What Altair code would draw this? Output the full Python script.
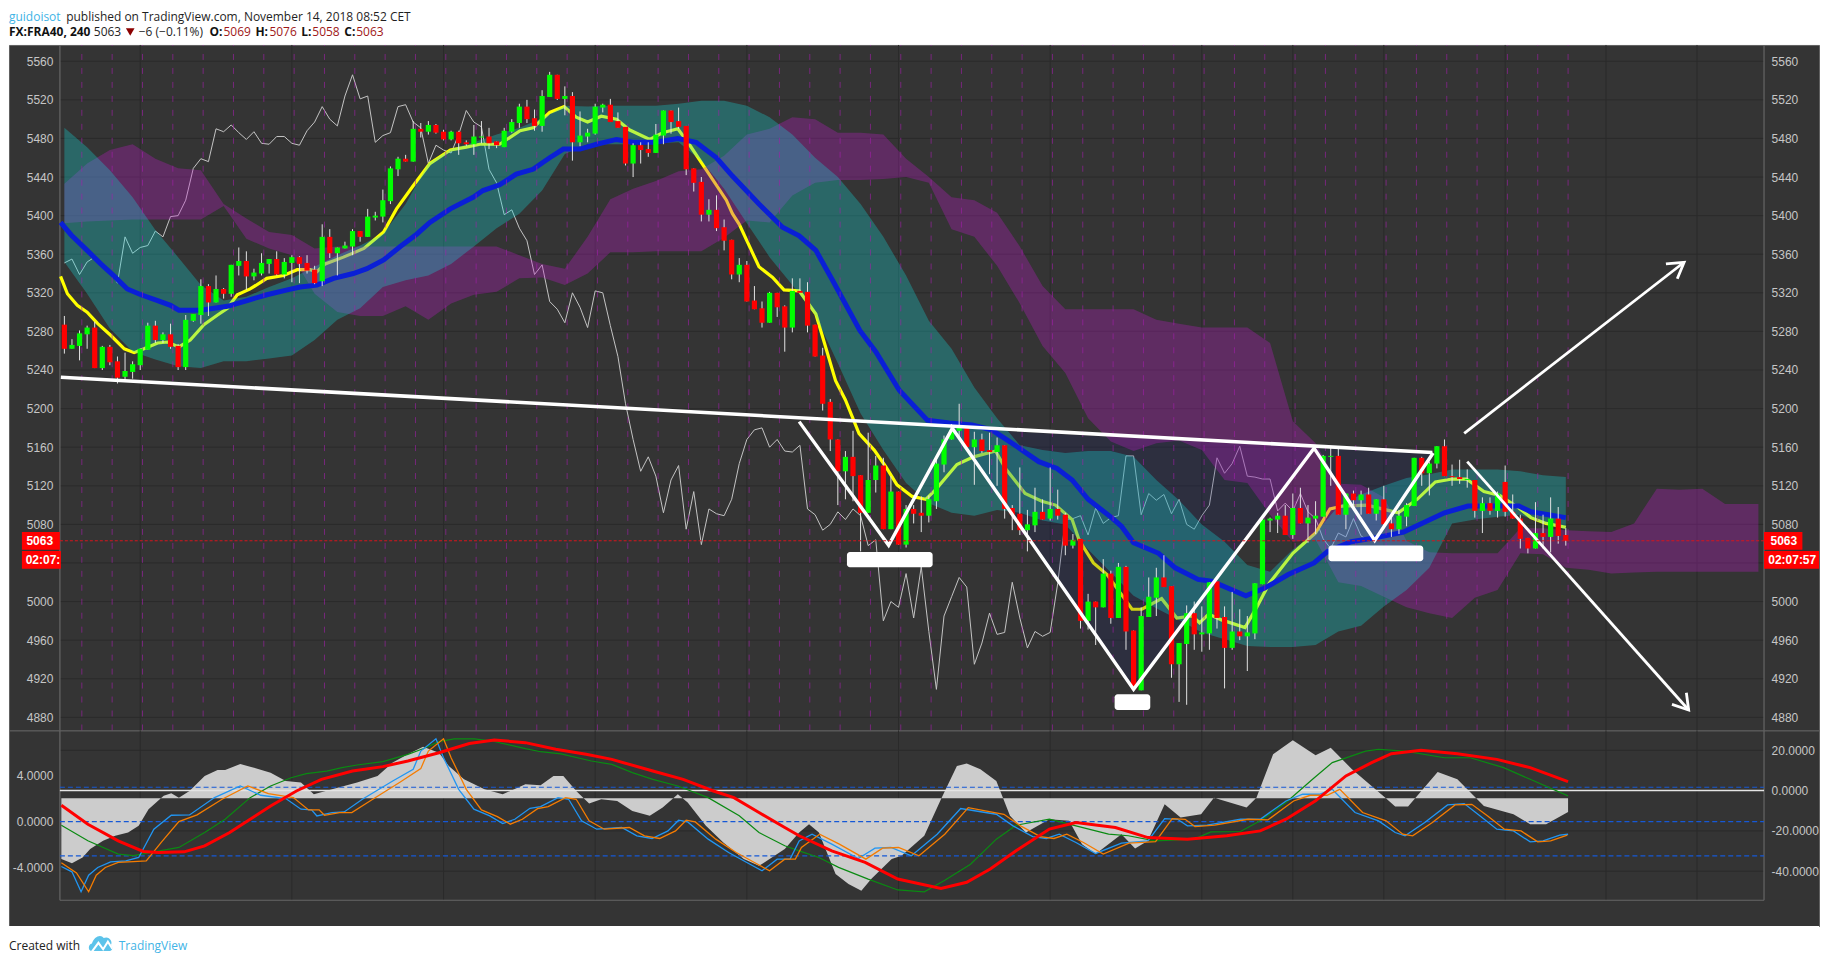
import altair as alt
import pandas as pd

# ---------- candles (price, one entry per bar) ----------
open_ = [5287,5262,5265,5277,5284,5242,5264,5249,5233,5238,5245,5261,5286,5271,5277,5265,5243,5291,5297,5327,
5310,5324,5319,5348,5353,5337,5340,5350,5355,5339,5351,5357,5351,5344,5332,5378,5361,5366,5368,5384,
5378,5398,5399,5415,5448,5459,5456,5490,5487,5494,5487,5479,5487,5476,5474,5481,5482,5477,5471,5487,
5496,5513,5501,5493,5523,5546,5521,5524,5476,5482,5485,5512,5515,5498,5492,5454,5473,5469,5465,5483,
5509,5498,5493,5449,5435,5401,5406,5388,5375,5339,5349,5312,5304,5289,5320,5306,5284,5322,5321,5287,
5255,5207,5168,5135,5150,5131,5092,5126,5141,5075,5114,5059,5096,5092,5089,5104,5142,5168,5177,5180,
5160,5168,5157,5155,5162,5097,5091,5074,5079,5093,5086,5096,5090,5058,5065,4980,5000,4994,5029,4983,
5036,4970,4908,4984,5004,5025,5016,4935,4956,4988,4966,4967,5021,4984,4952,4969,4964,4967,5018,5084,
5085,5089,5069,5097,5081,5086,5088,5150,5151,5090,5112,5105,5111,5091,5106,5081,5075,5088,5099,5149,
5133,5143,5161,5130,5129,5126,5126,5094,5102,5094,5124,5093,5086,5066,5055,5071,5067,5086,5069]
close_ = [5262,5266,5278,5284,5242,5264,5248,5232,5239,5246,5262,5286,5271,5277,5264,5243,5292,5298,5327,5310,
5324,5319,5349,5353,5337,5341,5351,5355,5339,5352,5357,5350,5343,5330,5378,5361,5367,5369,5384,5378,
5399,5400,5416,5449,5459,5456,5490,5487,5494,5486,5479,5487,5475,5474,5482,5482,5475,5473,5488,5497,
5513,5500,5493,5524,5546,5521,5524,5476,5483,5486,5513,5515,5497,5491,5454,5473,5468,5465,5484,5509,
5497,5492,5448,5434,5401,5406,5387,5374,5339,5349,5311,5303,5289,5320,5305,5284,5322,5320,5286,5254,
5205,5168,5135,5150,5130,5092,5126,5141,5075,5114,5059,5096,5091,5089,5106,5143,5168,5178,5180,5160,
5168,5156,5155,5162,5096,5090,5074,5080,5093,5085,5096,5089,5058,5064,4980,5000,4994,5029,4983,5036,
4969,4909,4985,5005,5025,5015,4935,4957,4988,4966,4968,5020,4983,4952,4969,4964,4968,5019,5085,5086,
5089,5069,5097,5081,5087,5089,5151,5151,5090,5112,5105,5111,5091,5106,5080,5075,5089,5100,5149,5133,
5143,5161,5130,5129,5127,5127,5094,5102,5094,5112,5093,5086,5065,5055,5071,5067,5086,5068,5063]
high_ = [5296,5272,5281,5286,5290,5265,5266,5254,5258,5249,5262,5289,5291,5279,5288,5267,5297,5298,5334,5329,
5338,5325,5349,5367,5363,5345,5361,5355,5363,5356,5359,5358,5359,5348,5391,5386,5367,5373,5386,5384,
5407,5404,5427,5451,5461,5463,5498,5496,5498,5495,5489,5488,5488,5478,5494,5498,5491,5477,5491,5500,
5516,5520,5510,5530,5549,5546,5534,5528,5508,5490,5516,5516,5521,5507,5492,5475,5476,5476,5495,5509,
5509,5512,5493,5449,5440,5417,5421,5396,5375,5356,5353,5327,5311,5321,5320,5307,5335,5335,5331,5287,
5263,5210,5168,5156,5177,5131,5175,5151,5149,5130,5114,5100,5100,5109,5110,5150,5172,5184,5205,5180,
5176,5174,5175,5170,5162,5100,5139,5095,5118,5106,5139,5116,5092,5070,5065,5008,5000,5044,5032,5040,
5037,4970,4994,5025,5035,5048,5016,4957,4996,5000,4995,5020,5021,4995,5010,4992,4985,5019,5085,5087,
5092,5100,5112,5118,5100,5104,5152,5160,5160,5112,5115,5115,5118,5106,5120,5090,5095,5102,5149,5150,
5145,5161,5168,5142,5147,5137,5126,5108,5108,5114,5141,5111,5090,5066,5103,5090,5108,5098,5076]
low_ = [5257,5262,5250,5262,5242,5240,5245,5226,5228,5231,5240,5261,5268,5268,5262,5240,5240,5290,5288,5296,
5310,5314,5316,5338,5323,5333,5338,5340,5338,5335,5331,5330,5340,5329,5327,5356,5338,5366,5359,5373,
5378,5395,5393,5412,5441,5456,5456,5481,5484,5485,5478,5478,5463,5472,5463,5475,5469,5470,5471,5486,
5491,5496,5488,5487,5523,5520,5504,5457,5472,5476,5484,5507,5497,5491,5452,5440,5454,5461,5465,5474,
5485,5490,5442,5425,5394,5394,5384,5364,5334,5331,5311,5303,5284,5289,5295,5259,5279,5320,5279,5254,
5198,5156,5100,5106,5104,5052,5092,5113,5075,5075,5059,5056,5081,5072,5082,5096,5134,5168,5170,5160,
5121,5154,5132,5120,5086,5074,5069,5052,5072,5085,5084,5085,5048,5055,4972,4971,4955,4994,4977,4983,
4950,4908,4908,4984,4985,5015,4921,4896,4893,4950,4948,4950,4972,4910,4950,4960,4928,4961,5018,5072,
5071,5069,5065,5081,5061,5070,5088,5120,5090,5075,5100,5090,5091,5084,5076,5067,5070,5078,5099,5120,
5110,5138,5130,5120,5122,5118,5087,5071,5090,5087,5088,5086,5055,5050,5055,5055,5051,5060,5058]

# ---------- moving averages ----------
yellow_bars = [-0.5,0.4,1.7,3,4.4,6.1,7.9,9.2,10.5,12.3,13.6,15.1,16.6,18.4,20.2,21.5,22.8,24.5,26.7,28.9,30.7,32.4,33.3,34.4,36.8,39.5,42.1,43.8,46,48.2,50.9,53,54.8,57.4,
60.1,61.8,64,65.9,67.5,69,70.8,72.8,74.5,77.2,78.9,80.9,82.4,84.6,87.3,88.1,89,91.6,93.4,94.9,96.9,99.1,101.7,103,104.8,106.8,108.3,109.8,111.8,113.6,114.9,117.7,119.9,122.8,124.1,126.7,128.9,130.7,132.9,133.8,135.7,137.5,140.8,142.1,144.7,146.7,148.7,149.7,150.9,152.6,155.7,157.3,158.9,162,165,166.9,168.6,171.8,174.3,175.9,178.4,180.8,183,184.9,187.2,189.3,191.8,193.4,195.4,198]
yellow_vals = [5337,5319,5307,5300,5288,5276,5262,5258,5262,5268,5269,5264,5271,5287,5297,5304,5318,5324,5335,5338,5344,5344,5342,5350,5357,5366,5383,5407,5431,5454,5468,5471,5474,5474,
5488,5491,5507,5513,5502,5497,5503,5500,5489,5479,5486,5490,5474,5448,5416,5402,5391,5347,5336,5323,5322,5298,5229,5209,5174,5157,5140,5121,5109,5106,5116,5142,5150,5156,5138,5112,5104,5100,5085,5064,5040,5028,4992,4992,5003,4983,4985,4978,4987,4981,4973,4995,5019,5050,5071,5096,5099,5100,5095,5092,5106,5124,5127,5127,5114,5110,5097,5087,5081,5077]
blue_bars = [-0.5,0.9,3,4.8,6.6,8.3,10.1,12.3,14,15.1,18,21.5,24.1,26.7,29.4,31.1,33.3,35.5,38.1,39.9,42.1,44.3,46.5,48.2,50.9,53.9,55.2,57.4,
59.6,61.8,64,65.8,68,70.2,72.8,75,78,80.9,83.3,86,88.1,91.6,94.7,96.9,99.1,101.3,104.9,107,110.1,113.8,116.7,119.7,122.3,125,128.5,130.9,132.9,135,138.1,139.4,141,144.3,146.5,149.5,151.3,155.8,158.3,161.4,164.8,166.6,169.7,172.8,176.6,179,182,185.1,188.7,191.8,193.4,198]
blue_vals = [5393,5380,5364,5350,5337,5324,5318,5312,5307,5302,5302,5306,5312,5318,5323,5326,5328,5335,5340,5345,5354,5368,5381,5393,5407,5419,5426,5432,
5443,5448,5460,5469,5469,5474,5479,5476,5476,5480,5476,5460,5441,5412,5388,5379,5364,5333,5281,5259,5219,5188,5185,5183,5178,5164,5145,5138,5126,5106,5087,5078,5061,5050,5035,5023,5021,5006,5014,5028,5040,5052,5062,5066,5072,5081,5092,5099,5099,5099,5093,5087]

# ---------- clouds, sampled every third bar ----------
teal_bars = list(range(0, 199, 3))
teal_up = [5491,5471,5447,5419,5385,5357,5328,5312,5316,5326,5335,5347,5359,5369,5381,5412,5454,5469,5476,5484,
5491,5501,5514,5513,5514,5514,5514,5516,5519,5519,5514,5502,5484,5460,5440,5412,5378,5338,5291,5262,5222,
5190,5162,5157,5154,5156,5156,5150,5126,5105,5080,5062,5038,5031,5054,5071,5099,5111,5120,5128,5132,5137,5137,5137,5135,5131,5129]
teal_lo = [5352,5319,5283,5259,5251,5244,5242,5249,5249,5252,5255,5271,5292,5304,5326,5333,5338,5350,5368,5387,
5402,5426,5464,5474,5474,5474,5475,5476,5457,5428,5392,5357,5328,5297,5247,5195,5157,5123,5102,5092,5089,
5095,5092,5084,5080,5054,5030,5006,4993,4981,4968,4961,4954,4953,4953,4955,4969,4975,4995,5012,5035,5081,5085,5088,5090,5081,5075]
purple_bars = list(range(0, 223, 3)) + [223.4]
purple_up = [5433,5454,5468,5474,5459,5449,5447,5412,5397,5383,5380,5366,5368,5368,5368,5368,5368,5368,5368,5368,
5359,5350,5345,5378,5417,5428,5436,5446,5448,5462,5484,5490,5502,5500,5486,5486,5484,5459,5440,5419,5416,
5403,5368,5327,5303,5303,5303,5303,5292,5288,5284,5284,5284,5268,5187,5164,5122,5121,5108,5063,5051,5050,5050,5050,
5076,5076,5074,5073,5072,5081,5117,5116,5117,5101,5101,5101]
purple_lo = [5392,5394,5395,5396,5396,5396,5396,5410,5376,5366,5359,5319,5300,5296,5296,5306,5292,5309,5318,5321,
5335,5336,5328,5340,5362,5362,5363,5363,5363,5377,5395,5393,5421,5434,5437,5437,5438,5440,5434,5386,5378,
5348,5309,5265,5237,5190,5166,5156,5164,5167,5157,5126,5123,5090,5062,5064,5020,5016,5005,4994,4988,4983,5004,5012,
5050,5049,5035,5033,5029,5030,5031,5031,5031,5031,5031,5031]

# ---------- drawing tools ----------
trend_bars = [-0.46, 180.4]
trend_vals = [5232.5, 5154.5]
zig_bars = [96.9,108.7,117.1,141.0,164.8,172.8,180.5]
zig_vals = [5186.5,5058.3,5179.7,4909,5159,5063.4,5154]
tri_bars = [[117.1,141.0,164.8],[164.8,172.8,180.5]]
tri_top = [[5179.7,5169.3,5159],[5159,5156.5,5154]]
tri_bot = [[5179.7,4909,5159],[5159,5063.4,5154]]
arrow_up_bars = [184.6,213.6]; arrow_up_vals = [5174.3,5351.7]
up_barb_bars = [211.2,213.6,212.7]; up_barb_vals = [5350,5351.7,5334.5]
arrow_dn_bars = [185.0,214.2]; arrow_dn_vals = [5145,4887.6]
dn_barb_bars = [213.9,214.2,212]; dn_barb_vals = [4905.5,4887.6,4893.4]
label_x0 = [103.2,166.7,138.5]; label_x1 = [114.5,179.2,143.2]
label_y0 = [5051.4,5058,4903.8]; label_y1 = [5035.5,5041.7,4887.6]

# ---------- lower pane ----------
hist_bars = [-0.4,1,2.4,3.4,5.1,6.7,8.4,9.8,11.1,13.1,14.1,15.1,16.5,18.5,20.2,21.2,23.2,24.5,27.2,29.2,31.2,32.9,35.3,38.6,41.3,43.3,45.3,47.3,49.4,50.7,52.7,55.4,57.8,60.8,62.8,64.5,65.8,67.5,69.2,70.8,72.9,74.9,77.2,78.9,80.9,82.2,84.6,86.9,89.6,91.6,93,95,96.9,
98.2,99.5,101.7,103.4,105.1,106.4,109.1,110.4,113.4,115.6,117.7,119,120.8,122.9,124.7,126.8,129.9,132.5,134.2,136,139.4,141.2,142.9,145.1,147.2,149.9,151.6,155.9,157.2,159.4,162,165,167,169.8,174.2,175.5,177.2,181.1,183.7,187.2,191.1,193.3,195.4,198.3]
hist_vals = [-34,-36,-33.2,-29,-24.9,-22.4,-20.8,-17.5,-9.2,-2.6,-1.3,-3.5,-0.2,7.3,10.2,10.2,13.2,11.9,8.9,4.8,4,-1.8,0.7,4,7.3,13.9,18,21.8,18.8,12.2,5.6,0.7,-1.8,3.1,2.6,7.3,7.3,-0.2,-6.4,-4.3,-5.1,-10.1,-12.5,-8.4,-1.8,-5.9,-17.5,-25.7,-34,-37.3,-34,-29,-20.8,
-16.7,-20.8,-41.4,-46.4,-49.7,-43.9,-34,-32.3,-22.4,-4.3,12.2,13.4,10.6,4.8,-12.5,-20.8,-14.2,-15,-26.6,-31.5,-21.6,-28.7,-24.9,-6.8,-13.4,-11.7,-3.5,-8.4,-3.5,18,25,17.5,21.3,10.6,-3.5,-7.9,-7.9,9.2,5.6,-7.6,-11.7,-16.7,-16.7,-10.6]
hist_base = -3.8
red_bars = [-0.4,3.1,7.1,10.4,12.4,15.8,18.5,21.8,24.5,27.2,30.6,33.9,38,42,45.3,49.4,53.4,56.7,60.8,64.8,68.8,72.2,77.6,81.6,85.6,88.3,91.6,95,96.9,
101.2,105.6,109.9,115.6,119,122.1,125.5,129.9,133.4,138.6,142.9,148.1,153.3,157.7,161.1,165,169,172.4,175,178.9,183.7,188.9,193.3,198.3]
red_vals = [-7.3,-16.7,-24.9,-30.2,-30.7,-30.4,-27.4,-20.8,-14.2,-7.6,-0.2,5.6,9.7,11.9,14.7,18.8,23.4,25.1,23.8,20.5,18,15.5,9.7,5.6,-0.2,-3.5,-10.9,-18.3,-22.4,
-29.9,-35.6,-43.9,-48.5,-45.5,-38.9,-29.9,-19.1,-15.8,-18.3,-23.3,-24.1,-22.4,-20,-14.2,-5.1,7.3,13.9,18.3,20,18.3,15.5,11.4,4.5]
green_bars = [-0.4,3.1,7.1,9.1,11.8,15.1,18.5,21.2,24.5,27.2,29.9,31.9,34.6,36.6,38.6,42,45.3,47.3,49.4,51.4,54.1,56.4,60.8,62.8,65.5,69.5,72.2,74.9,77.6,80.9,84.9,89,91.6,95,96.9,
99.5,102.1,106,109.9,113.4,116,119.5,122.9,125.5,129.9,133.4,137.7,140.3,143.8,149,151.2,155.1,157.7,161.1,164.6,167.2,171.6,173.3,176.8,182,185.4,189.8,193.3,198.3]
green_vals = [-17.2,-24.9,-31.5,-32.3,-30.4,-28.2,-20.8,-14.2,-3.5,2.3,6.4,8.4,9.7,11.4,12.7,14.4,18,20.8,24.3,25.7,25.7,24.6,20.8,19.3,18.2,14.7,13,8.9,5.6,2.3,-3.5,-12.5,-20.8,-27.4,-29.9,
-33.2,-38.1,-43.9,-49.3,-50.2,-44.7,-36.5,-24.1,-17.2,-14.2,-17.5,-21.6,-22.4,-24.9,-24.1,-20.5,-20.3,-15,-5.9,5.6,13.9,19.6,20.5,19.6,16.3,16.3,11.4,5.6,-2.6]
osc_blue_bars = [-0.4,1,2.2,3.2,4.4,6.1,8.1,9.8,11.8,14.1,16.5,19.8,23.2,25.9,29.2,31.2,32.6,33.3,35.3,36.9,39.3,43.3,46,47,49,50,52,54,56.1,57.8,59.4,61.4,62.8,65.1,66.5,68.2,70.2,73.5,75.5,77.5,79.6,81,82.2,84.9,87.6,90,92,94,95.7,96.9,
98.6,101.2,104.7,106.9,109,111.7,115.1,118.2,122.9,125.1,127.7,129.5,131.2,133.4,136,139.4,142.9,145.1,146.8,148.1,150.7,155.1,157.7,161.1,163.3,165.5,167.2,170.2,173.3,175.5,176.8,179.4,182.4,184.6,186.7,188.9,191.1,193.3,195,197.2,198.3]
osc_blue_vals = [-3.93,-4.4,-6.14,-4.69,-4.02,-3.52,-3.44,-3.14,-0.67,0.55,0.58,2.1,3.11,2.3,2.01,1.08,1.02,0.49,0.79,0.84,1.95,3.55,4.57,6.17,7.25,5.59,2.82,1.08,0.49,-0.17,0.2,1.16,1.31,2.1,1.95,0.06,-0.67,-0.52,-1.25,-1.48,-0.82,0.12,-0.03,-1.54,-2.71,-3.58,-4.31,-3.29,-3.29,-1.69,
-1.11,-1.98,-3.23,-2.33,-2.27,-3,-1.11,1.14,0.64,-0.38,-1.31,-1.48,-1.11,-1.83,-2.79,-1.89,-1.69,0.26,0.2,-0.38,-0.32,0.2,0.2,1.8,2.39,2.39,2.82,0.79,0.06,-0.96,-1.25,-0.09,1.46,1.57,0.49,-0.67,-0.82,-1.78,-1.69,-1.19,-1.11]
osc_orange_bars = [-0.4,1.6,3.2,4.2,5.4,7.1,9.1,10.8,12.8,15.1,17.5,20.8,24.2,26.9,30.2,32.2,33.6,34.3,36.3,37.9,40.3,44.3,47,48,50,51,53,55,57.1,58.8,60.4,62.4,63.8,66.1,67.5,69.2,71.2,74.5,76.5,78.5,80.6,82,83.2,85.9,88.6,91,93,95,96.4,97.2,
99.6,102.2,105.7,107.9,110,112.7,116.1,119.2,123.9,126.1,128.7,130.5,132.2,134.4,137,140.4,143.9,146.1,147.8,149.1,151.7,156.1,158.7,162.1,164.3,166.5,168.2,171.2,174.3,176.5,177.8,180.4,183.4,185.6,187.7,189.9,192.1,194.3,196,198.2]
osc_orange_vals = [-3.6,-4.5,-6.14,-4.69,-4.02,-3.57,-3.5,-3.44,-1.8,0,0.58,1.95,3.11,2.44,2.1,1.02,1.02,0.55,0.79,0.79,1.8,3.46,4.63,6.17,7.25,5.59,2.82,1.02,0.43,-0.23,0.2,1.13,1.31,2.1,1.95,0.06,-0.67,-0.52,-1.25,-1.48,-0.82,0.12,-0.03,-1.54,-2.71,-3.58,-4.31,-3.29,-3.29,-2.27,
-1.11,-1.98,-3.29,-2.33,-2.27,-3,-1.11,1.22,0.64,-0.38,-1.31,-1.48,-1.11,-1.83,-2.85,-1.89,-1.75,0.26,0.2,-0.44,-0.32,0.2,0.14,1.8,2.3,2.3,2.82,0.79,0.06,-1.11,-1.25,-0.09,1.46,1.51,0.49,-0.67,-0.82,-1.78,-1.69,-1.19]

# ---------- axes and labels ----------
price_ticks = [4880,4920,4960,5000,5040,5080,5120,5160,5200,5240,5280,5320,5360,5400,5440,5480,5520,5560]
price_axis_ticks = [t for t in price_ticks if t != 5040]
osc_left_ticks = [4,0,-4]
osc_right_ticks = [20,0,-20,-40]
guide_levels = [3,0,-3]
date_bars = [10,30,50,70,90,110,130,150,162,174,190,203.3,215.3]
date_labels = ['10','17','24','Oct','8','15','22','29','Nov','6','12','15','19']
session_lines = [2.3 + 4*k for k in range(50)]
LAST = 5063

AX_L, AX_R = -0.59, 224.14
XD = [-7.303, 231.39]
MAIN_D = [4866.4, 5576.9]
LEFT_D = [-9.14, 7.97]
RIGHT_D = [-67.2, 29.85]
W = 1814; MAIN_H = 687; LOW_H = 196

xs = alt.Scale(domain=XD, nice=False, zero=False)
def X(f='b', axis=None):
    return alt.X(f + ':Q', scale=xs, axis=axis, title=None)
def Yq(dom):
    sc = alt.Scale(domain=dom, nice=False, zero=False)
    return lambda f='v', axis=None: alt.Y(f + ':Q', scale=sc, axis=axis, title=None)
Ym = Yq(MAIN_D); Yl = Yq(LEFT_D); Yr = Yq(RIGHT_D)

def line(bars, vals, color, width, Y=Ym, **kw):
    df = pd.DataFrame({'b': bars, 'v': vals, 'i': list(range(len(bars)))})
    return alt.Chart(df).mark_line(color=color, strokeWidth=width, **kw).encode(
        x=X(), y=Y(), order=alt.Order('i:Q'))

LABEL = dict(labelColor='#c6c6c6', labelFont='Liberation Sans', labelFontSize=12, domain=False, ticks=False,
             grid=False, title=None, labelPadding=7)
fix_minus = "replace(format(datum.value,'.4f'),'\u2212','-')"

GRID = '#2a2a2a'
grid_df = pd.DataFrame({'v': price_ticks, 'a': AX_L, 'c': AX_R})
main_grid_l = alt.Chart(grid_df).mark_rule(color=GRID, strokeWidth=1).encode(
    y=Ym(axis=alt.Axis(values=price_axis_ticks, orient='left', offset=-51, format='d', **LABEL)), x=X('a'), x2='c:Q')
main_grid_r = alt.Chart(grid_df).mark_rule(opacity=0).encode(
    y=Ym(axis=alt.Axis(values=price_axis_ticks, orient='right', offset=-55, format='d', **LABEL)), x=X('a'), x2='c:Q')
vgrid_df = pd.DataFrame({'b': date_bars, 'lo': MAIN_D[0], 'hi': MAIN_D[1]})
main_vgrid = alt.Chart(vgrid_df).mark_rule(color=GRID, strokeWidth=1).encode(x=X(), y=Ym('lo'), y2='hi:Q')
ax_df = pd.DataFrame({'b': [AX_L, AX_R], 'lo': MAIN_D[0], 'hi': MAIN_D[1]})
main_ax = alt.Chart(ax_df).mark_rule(color='#666666', strokeWidth=1.2).encode(x=X(), y=Ym('lo'), y2='hi:Q')

df_lag = pd.DataFrame({'b': list(range(len(close_) - 26)), 'v': close_[26:]})
lag = alt.Chart(df_lag).mark_line(color='#c4c4c4', strokeWidth=1).encode(x=X(), y=Ym())

def band(bars, up, lo, color, op):
    return alt.Chart(pd.DataFrame({'b': bars, 'u': up, 'l': lo})).mark_area(color=color, opacity=op, line=False).encode(
        x=X(), y=Ym('u'), y2='l:Q')

tris = [band(b, t, o, '#162070', 0.2) for b, t, o in zip(tri_bars, tri_top, tri_bot)]

cdf = pd.DataFrame({'b': list(range(len(close_))), 'o': open_, 'c': close_, 'h': high_, 'l': low_})
cdf['dir'] = ['up' if c >= o else 'down' for o, c in zip(open_, close_)]
wicks = alt.Chart(cdf).mark_rule(color='#e2e2e2', strokeWidth=1).encode(x=X(), y=Ym('h'), y2='l:Q')
bodies = alt.Chart(cdf).mark_rule(strokeWidth=5.2).encode(
    x=X(), y=Ym('o'), y2='c:Q',
    color=alt.Color('dir:N', scale=alt.Scale(domain=['up','down'], range=['#00ff00','#ff0000']), legend=None))

white = [
    line(trend_bars, trend_vals, '#ffffff', 3.6),
    line(zig_bars, zig_vals, '#ffffff', 3.4),
    line(arrow_up_bars, arrow_up_vals, '#ffffff', 2.8),
    line(up_barb_bars, up_barb_vals, '#ffffff', 2.8),
    line(arrow_dn_bars, arrow_dn_vals, '#ffffff', 2.8),
    line(dn_barb_bars, dn_barb_vals, '#ffffff', 2.8),
]
labels_box = alt.Chart(pd.DataFrame({'a': label_x0, 'c': label_x1, 't': label_y0, 'u': label_y1})).mark_rect(
    color='#ffffff', cornerRadius=3).encode(x=X('a'), x2='c:Q', y=Ym('t'), y2='u:Q')

vl_df = pd.DataFrame({'b': session_lines, 'lo': MAIN_D[0], 'hi': MAIN_D[1]})
vlines = alt.Chart(vl_df).mark_rule(color='#a51fad', opacity=0.6, strokeWidth=1, strokeDash=[6, 8]).encode(
    x=X(), y=Ym('lo'), y2='hi:Q')

price_line = alt.Chart(pd.DataFrame({'v': [LAST], 'a': AX_L, 'c': AX_R})).mark_rule(
    color='#d8141c', strokeWidth=1, strokeDash=[3, 2]).encode(y=Ym(), x=X('a'), x2='c:Q')

box_df = pd.DataFrame({'a': [-5.6,-5.6,224.14,224.14], 'c': [-0.6,-0.46,229.2,231.39],
                       't': [5072,5052.5,5072,5052.5], 'u': [5053.6,5034,5053.6,5034]})
boxes = alt.Chart(box_df).mark_rect(color='#ff0000').encode(x=X('a'), x2='c:Q', y=Ym('t'), y2='u:Q')
txt_df = pd.DataFrame({'b': [-5.0,-5.1,225.0,224.7], 'v': [5063,5043.3,5063,5043.3],
                       't': ['5063','02:07:','5063','02:07:57']})
box_txt = alt.Chart(txt_df).mark_text(color='#ffffff', font='Liberation Sans', fontSize=12, align='left',
                                      fontWeight='bold', baseline='middle').encode(x=X(), y=Ym(), text='t:N')

main = alt.layer(
    main_grid_l, main_grid_r, main_vgrid, main_ax, lag,
    line(yellow_bars, yellow_vals, '#ffff00', 3.2),
    *tris,
    band(purple_bars, purple_up, purple_lo, '#c319cd', 0.3),
    band(teal_bars, teal_up, teal_lo, '#13dede', 0.3),
    line(blue_bars, blue_vals, '#0a1fd6', 5),
    vlines, wicks, bodies, labels_box, *white, price_line, boxes, box_txt
).resolve_scale(y='independent').properties(width=W, height=MAIN_H,
    view=alt.ViewBackground(fill='#343434', stroke='#606060'))

# ----- lower pane -----
low_grid = pd.DataFrame({'v': osc_right_ticks, 'a': AX_L, 'c': AX_R})
lg = alt.Chart(low_grid).mark_rule(color=GRID, strokeWidth=1).encode(
    y=Yr(axis=alt.Axis(values=osc_right_ticks, orient='right', offset=-55, labelExpr=fix_minus, **LABEL)),
    x=X('a', axis=alt.Axis(values=date_bars, orient='bottom', offset=-26, title=None, labelColor='#c6c6c6',
                           labelFont='Liberation Sans', labelFontSize=12, domain=False, ticks=False, grid=False,
                           labelPadding=8, labelExpr='{' + ','.join(f"'{b}':'{l}'" for b, l in zip(date_bars, date_labels)) + '}[datum.value]')),
    x2='c:Q')
lvgrid = alt.Chart(pd.DataFrame({'b': date_bars, 'lo': [-54.4]*len(date_bars), 'hi': [RIGHT_D[1]]*len(date_bars)})).mark_rule(
    color=GRID, strokeWidth=1).encode(x=X(), y=Yr('lo'), y2='hi:Q')
lax = alt.Chart(pd.DataFrame({'b': [AX_L, AX_R], 'lo': [-54.4, -54.4], 'hi': [RIGHT_D[1]]*2})).mark_rule(
    color='#666666', strokeWidth=1.2).encode(x=X(), y=Yr('lo'), y2='hi:Q')
lbot = alt.Chart(pd.DataFrame({'v': [-54.4], 'a': [AX_L], 'c': [AX_R]})).mark_rule(color='#666666', strokeWidth=1.2).encode(
    y=Yr(), x=X('a'), x2='c:Q')
hist = alt.Chart(pd.DataFrame({'b': hist_bars, 'v': hist_vals, 'z': hist_base})).mark_area(color='#cccccc').encode(
    x=X(), y=Yr(), y2='z:Q')
zero = alt.Chart(pd.DataFrame({'v': [0], 'a': [AX_L], 'c': [AX_R]})).mark_rule(color='#e4e4e4', strokeWidth=1.5).encode(
    y=Yr(), x=X('a'), x2='c:Q')
dash = alt.Chart(pd.DataFrame({'v': guide_levels, 'a': AX_L, 'c': AX_R})).mark_rule(
    color='#1558d6', strokeWidth=1.2, strokeDash=[5, 3]).encode(x=X('a'), x2='c:Q', y=Yl())
left_ax = alt.Chart(pd.DataFrame({'v': osc_left_ticks, 'a': AX_L, 'c': AX_R})).mark_rule(opacity=0).encode(
    x=X('a'), x2='c:Q', y=Yl(axis=alt.Axis(values=osc_left_ticks, orient='left', offset=-51, labelExpr=fix_minus, **LABEL)))

lower = alt.layer(
    lg, lvgrid, lax, lbot, hist, zero, dash, left_ax,
    line(green_bars, green_vals, '#0a8a12', 1.2, Y=Yr),
    line(osc_blue_bars, osc_blue_vals, '#2196f3', 1.3, Y=Yl),
    line(osc_orange_bars, osc_orange_vals, '#f57c00', 1.3, Y=Yl),
    line(red_bars, red_vals, '#ff0000', 3, Y=Yr),
).resolve_scale(y='independent').properties(width=W, height=LOW_H,
    view=alt.ViewBackground(fill='#343434', stroke='#606060'))

# ----- header and footer -----
def text(t, px, py, color='#1f1f1f', weight='normal'):
    return alt.Chart(pd.DataFrame({'t': [t]})).mark_text(
        font='Open Sans', fontSize=12, align='left', baseline='middle', color=color, fontWeight=weight
    ).encode(text='t:N', x=alt.value(px), y=alt.value(py))

DR = '#a01818'
header_items = [
    ('guidoisot', 0, 8, '#3fb4e6', 'normal'),
    ('published on TradingView.com, November 14, 2018 08:52 CET', 57.3, 8, '#1f1f1f', 'normal'),
    ('FX:FRA40, 240', 0, 23, '#111111', 'bold'),
    ('5063', 85, 23, '#1f1f1f', 'normal'),
    ('\u22126 (\u22120.11%)', 130, 23, '#1f1f1f', 'normal'),
    ('O:', 201, 23, '#111111', 'bold'), ('5069', 215, 23, DR, 'normal'),
    ('H:', 247, 23, '#111111', 'bold'), ('5076', 261, 23, DR, 'normal'),
    ('L:', 293, 23, '#111111', 'bold'), ('5058', 304, 23, DR, 'normal'),
    ('C:', 336, 23, '#111111', 'bold'), ('5063', 348, 23, DR, 'normal'),
]
tri_mark = alt.Chart(pd.DataFrame({'t': [1]})).mark_point(shape='triangle-down', filled=True, color='#8b0000', size=75, opacity=1).encode(
    x=alt.value(121.5), y=alt.value(23))
header = alt.layer(*[text(*h) for h in header_items], tri_mark).properties(width=W, height=36,
    view=alt.ViewBackground(fill='#ffffff', stroke=None))

CLOUD = 'M-0.75,0.6 C-1.1,0.6 -1.1,0 -0.75,-0.05 C-0.6,-0.6 0,-0.9 0.25,-0.5 C0.7,-0.7 1.05,-0.2 0.85,0.1 C1.1,0.3 0.95,0.6 0.7,0.6 Z'
ZIG = 'M-0.75,0.65 L-0.2,-0.1 L0.2,0.45 L0.6,-0.2 L0.98,0.4'
logo = alt.Chart(pd.DataFrame({'t': [1]})).mark_point(shape=CLOUD, filled=True, color='#5cc3ea', size=560, opacity=1).encode(
    x=alt.value(92), y=alt.value(18))
logo_z = alt.Chart(pd.DataFrame({'t': [1]})).mark_point(shape=ZIG, filled=False, color='#ffffff', size=560, strokeWidth=2, opacity=1).encode(
    x=alt.value(92), y=alt.value(18))
footer = alt.layer(text('Created with', 0, 19.7, '#222222'), logo, logo_z,
                   text('TradingView', 110, 19.7, '#3fb4e6')).properties(width=W, height=33,
    view=alt.ViewBackground(fill='#ffffff', stroke=None))

chart = alt.vconcat(header, main, lower, footer, spacing=0, bounds='flush').properties(padding=0, background='#ffffff').configure_view(stroke=None)
chart.save("out.html", embed_options={"renderer": "svg", "actions": False})
